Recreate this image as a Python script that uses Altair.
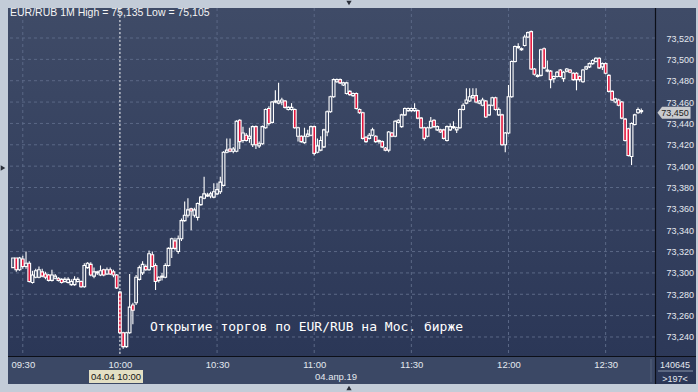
import altair as alt
import pandas as pd

# ---------------- data (EUR/RUB, 1-minute candles, 04.04.2019) ----------------
open_ = [
    73.305, 73.314, 73.303, 73.313, 73.306, 73.309, 73.291, 73.296, 73.296, 73.301,
    73.299, 73.298, 73.293, 73.295, 73.295, 73.294, 73.292, 73.291, 73.289, 73.289,
    73.292, 73.292, 73.287, 73.305, 73.308, 73.297, 73.300, 73.298, 73.303, 73.299,
    73.303, 73.301, 73.298, 73.282, 73.244, 73.231, 73.244, 73.270, 73.272, 73.294,
    73.300, 73.306, 73.303, 73.317, 73.307, 73.293, 73.296, 73.296, 73.307, 73.323,
    73.330, 73.320, 73.332, 73.349, 73.354, 73.360, 73.354, 73.352, 73.364, 73.370,
    73.372, 73.372, 73.371, 73.374, 73.376, 73.382, 73.413, 73.416, 73.414, 73.414,
    73.443, 73.424, 73.429, 73.426, 73.420, 73.437, 73.419, 73.421, 73.436, 73.454,
    73.441, 73.460, 73.459, 73.460, 73.461, 73.453, 73.453, 73.453, 73.428, 73.428,
    73.422, 73.428, 73.429, 73.437, 73.413, 73.415, 73.418, 73.432, 73.451, 73.465,
    73.479, 73.481, 73.476, 73.468, 73.470, 73.466, 73.468, 73.453, 73.450, 73.427,
    73.426, 73.429, 73.428, 73.424, 73.423, 73.417, 73.415, 73.431, 73.428, 73.441,
    73.437, 73.448, 73.452, 73.452, 73.452, 73.452, 73.445, 73.436, 73.428, 73.436,
    73.443, 73.434, 73.434, 73.434, 73.424, 73.434, 73.436, 73.434, 73.436, 73.453,
    73.459, 73.461, 73.464, 73.466, 73.459, 73.457, 73.461, 73.448, 73.457, 73.464,
    73.448, 73.448, 73.420, 73.431, 73.465, 73.498, 73.511, 73.509, 73.513, 73.521,
    73.526, 73.491, 73.484, 73.485, 73.510, 73.489, 73.489, 73.482, 73.484, 73.490,
    73.482, 73.489, 73.490, 73.487, 73.487, 73.484, 73.479, 73.491, 73.493, 73.496,
    73.498, 73.501, 73.493, 73.496, 73.485, 73.470, 73.460, 73.462, 73.460, 73.444,
    73.435, 73.409, 73.439, 73.450, 73.451,
]
high = [
    73.314, 73.314, 73.315, 73.316, 73.320, 73.311, 73.302, 73.304, 73.306, 73.304,
    73.301, 73.299, 73.303, 73.299, 73.296, 73.295, 73.296, 73.296, 73.294, 73.297,
    73.296, 73.293, 73.309, 73.310, 73.310, 73.305, 73.302, 73.307, 73.304, 73.305,
    73.305, 73.303, 73.299, 73.283, 73.245, 73.245, 73.299, 73.272, 73.298, 73.307,
    73.311, 73.308, 73.321, 73.320, 73.309, 73.297, 73.300, 73.309, 73.324, 73.333,
    73.333, 73.335, 73.351, 73.367, 73.370, 73.361, 73.361, 73.366, 73.372, 73.390,
    73.375, 73.376, 73.384, 73.384, 73.390, 73.414, 73.426, 73.426, 73.418, 73.443,
    73.444, 73.437, 73.431, 73.436, 73.438, 73.438, 73.423, 73.438, 73.454, 73.456,
    73.461, 73.471, 73.478, 73.464, 73.462, 73.456, 73.459, 73.454, 73.437, 73.429,
    73.436, 73.434, 73.438, 73.438, 73.426, 73.428, 73.435, 73.452, 73.466, 73.482,
    73.482, 73.482, 73.479, 73.479, 73.471, 73.469, 73.469, 73.454, 73.451, 73.428,
    73.431, 73.436, 73.429, 73.425, 73.424, 73.418, 73.433, 73.432, 73.443, 73.444,
    73.449, 73.455, 73.455, 73.455, 73.459, 73.453, 73.446, 73.437, 73.437, 73.446,
    73.444, 73.438, 73.435, 73.435, 73.438, 73.440, 73.442, 73.437, 73.454, 73.459,
    73.473, 73.473, 73.473, 73.473, 73.462, 73.464, 73.462, 73.458, 73.465, 73.465,
    73.455, 73.449, 73.432, 73.476, 73.499, 73.513, 73.515, 73.511, 73.523, 73.526,
    73.527, 73.492, 73.486, 73.510, 73.511, 73.499, 73.490, 73.485, 73.489, 73.491,
    73.489, 73.492, 73.491, 73.488, 73.488, 73.485, 73.491, 73.494, 73.497, 73.500,
    73.502, 73.502, 73.497, 73.497, 73.486, 73.471, 73.464, 73.463, 73.461, 73.445,
    73.436, 73.441, 73.449, 73.455, 73.454,
]
low = [
    73.305, 73.301, 73.302, 73.304, 73.304, 73.291, 73.290, 73.295, 73.295, 73.296,
    73.294, 73.292, 73.292, 73.294, 73.292, 73.290, 73.291, 73.290, 73.288, 73.288,
    73.291, 73.286, 73.286, 73.304, 73.297, 73.295, 73.298, 73.297, 73.297, 73.298,
    73.298, 73.296, 73.285, 73.243, 73.229, 73.230, 73.243, 73.252, 73.270, 73.293,
    73.298, 73.302, 73.302, 73.305, 73.284, 73.291, 73.293, 73.295, 73.306, 73.314,
    73.321, 73.318, 73.330, 73.348, 73.352, 73.340, 73.352, 73.349, 73.363, 73.369,
    73.371, 73.370, 73.370, 73.373, 73.374, 73.381, 73.412, 73.413, 73.412, 73.413,
    73.416, 73.422, 73.423, 73.422, 73.418, 73.416, 73.417, 73.420, 73.435, 73.438,
    73.440, 73.459, 73.458, 73.457, 73.454, 73.452, 73.452, 73.435, 73.423, 73.422,
    73.421, 73.427, 73.428, 73.410, 73.412, 73.414, 73.417, 73.428, 73.450, 73.464,
    73.478, 73.477, 73.475, 73.467, 73.466, 73.465, 73.453, 73.449, 73.425, 73.422,
    73.425, 73.428, 73.422, 73.421, 73.417, 73.414, 73.413, 73.427, 73.427, 73.440,
    73.436, 73.447, 73.451, 73.451, 73.451, 73.444, 73.435, 73.424, 73.427, 73.435,
    73.436, 73.433, 73.431, 73.425, 73.423, 73.433, 73.435, 73.431, 73.435, 73.452,
    73.458, 73.460, 73.463, 73.459, 73.458, 73.456, 73.445, 73.447, 73.456, 73.452,
    73.447, 73.419, 73.413, 73.430, 73.464, 73.497, 73.510, 73.508, 73.512, 73.520,
    73.490, 73.485, 73.483, 73.484, 73.491, 73.488, 73.473, 73.478, 73.483, 73.483,
    73.479, 73.488, 73.487, 73.480, 73.471, 73.479, 73.478, 73.490, 73.492, 73.495,
    73.497, 73.491, 73.490, 73.486, 73.469, 73.461, 73.459, 73.456, 73.444, 73.423,
    73.409, 73.401, 73.438, 73.449, 73.449,
]
close_ = [
    73.314, 73.303, 73.314, 73.306, 73.309, 73.292, 73.298, 73.302, 73.303, 73.297,
    73.296, 73.293, 73.298, 73.297, 73.293, 73.291, 73.294, 73.294, 73.292, 73.294,
    73.294, 73.287, 73.307, 73.309, 73.298, 73.301, 73.301, 73.302, 73.298, 73.303,
    73.299, 73.298, 73.286, 73.244, 73.231, 73.244, 73.268, 73.265, 73.296, 73.305,
    73.308, 73.303, 73.318, 73.306, 73.292, 73.296, 73.297, 73.307, 73.323, 73.332,
    73.323, 73.332, 73.349, 73.354, 73.359, 73.358, 73.359, 73.365, 73.371, 73.374,
    73.373, 73.374, 73.376, 73.378, 73.385, 73.413, 73.415, 73.414, 73.416, 73.442,
    73.423, 73.431, 73.424, 73.428, 73.437, 73.420, 73.421, 73.437, 73.453, 73.440,
    73.460, 73.461, 73.461, 73.462, 73.455, 73.455, 73.455, 73.436, 73.436, 73.423,
    73.428, 73.430, 73.437, 73.412, 73.419, 73.424, 73.434, 73.451, 73.465, 73.481,
    73.481, 73.478, 73.478, 73.478, 73.467, 73.468, 73.454, 73.450, 73.426, 73.423,
    73.429, 73.434, 73.423, 73.423, 73.418, 73.415, 73.432, 73.428, 73.442, 73.443,
    73.448, 73.454, 73.454, 73.454, 73.454, 73.445, 73.436, 73.426, 73.436, 73.442,
    73.437, 73.437, 73.432, 73.426, 73.437, 73.437, 73.437, 73.436, 73.453, 73.457,
    73.462, 73.465, 73.466, 73.460, 73.461, 73.462, 73.446, 73.457, 73.464, 73.453,
    73.453, 73.420, 73.431, 73.465, 73.498, 73.512, 73.512, 73.510, 73.521, 73.525,
    73.491, 73.486, 73.485, 73.509, 73.492, 73.490, 73.481, 73.484, 73.488, 73.484,
    73.488, 73.491, 73.488, 73.481, 73.481, 73.481, 73.490, 73.493, 73.496, 73.499,
    73.501, 73.492, 73.496, 73.487, 73.470, 73.462, 73.463, 73.457, 73.445, 73.424,
    73.410, 73.440, 73.448, 73.453, 73.452,
]
first_minute = 9 * 60 + 27          # first candle at 09:27
minutes = [first_minute + i for i in range(len(close_))]

price_ticks = [73.24, 73.26, 73.28, 73.30, 73.32, 73.34, 73.36, 73.38,
               73.40, 73.42, 73.44, 73.46, 73.48, 73.50, 73.52]
time_ticks = [570, 600, 630, 660, 690, 720, 750]   # 09:30 ... 12:30
cursor_minute = [600]                              # 10:00
last_price = [73.450]

title_text = "EUR/RUB 1M High = 75,135 Low = 75,105"
note_text = "Открытие торгов по EUR/RUB на Мос. бирже"
date_text = "04.апр.19"
cursor_text = "04.04 10:00"
count_text = "140645"
bars_text = ">197<"

# ---------------- layout / style ----------------
W, H = 647, 348
FONT = "Liberation Sans"
RED = "#e3163d"
UP_FILL = "#3a4664"
GRID = "#5b6886"
LABEL = "#e4e8ef"

x_scale = alt.Scale(domain=[566.98, 763.7], nice=False, zero=False)
y_scale = alt.Scale(domain=[73.2222, 73.5481], nice=False, zero=False)

x_axis = alt.Axis(
    values=time_ticks,
    labelExpr="(datum.value < 600 ? '0' : '') + floor(datum.value / 60) + ':' + "
              "(datum.value % 60 < 10 ? '0' : '') + (datum.value % 60)",
    title=None, grid=False, domain=False, ticks=False, labelPadding=3,
    labelFont=FONT, labelFontSize=9.5, labelColor=LABEL, zindex=1,
    labelFlush=False, labelOverlap=False, labelBound=False,
)
y_axis = alt.Axis(
    orient="right", values=price_ticks,
    labelExpr="replace(format(datum.value, '.3f'), '.', ',')",
    title=None, grid=False, domain=False, ticks=False, labelPadding=11,
    labelAlign="left", labelBaseline="middle",
    labelFont=FONT, labelFontSize=9, labelColor=LABEL, zindex=1,
    labelOverlap=False, labelFlush=False,
)


def X(f):
    return alt.X(f"{f}:Q", scale=x_scale, axis=x_axis)


def Y(f):
    return alt.Y(f"{f}:Q", scale=y_scale, axis=y_axis)


one = alt.Chart(pd.DataFrame({"k": [0]}))

grad = alt.LinearGradient(
    gradient="linear", x1=0, y1=0, x2=0, y2=1,
    stops=[alt.GradientStop(color="#3f4b67", offset=0),
           alt.GradientStop(color="#2b3757", offset=1)],
)

bg_plot = one.mark_rect(fill=grad).encode(
    x=alt.value(0), x2=alt.value(W), y=alt.value(0), y2=alt.value(H))
bg_right = one.mark_rect(fill=grad).encode(
    x=alt.value(W), x2=alt.value(W + 41), y=alt.value(0), y2=alt.value(H + 28))
bg_bottom = one.mark_rect(fill="#3b4865").encode(
    x=alt.value(0), x2=alt.value(W), y=alt.value(H), y2=alt.value(H + 28))

grid_h = alt.Chart(pd.DataFrame({"gy": price_ticks})).mark_rule(
    color=GRID, strokeDash=[3, 3], strokeWidth=1).encode(y=Y("gy"))
grid_v = alt.Chart(pd.DataFrame({"gx": time_ticks})).mark_rule(
    color=GRID, strokeDash=[3, 3], strokeWidth=1).encode(x=X("gx"))

df = pd.DataFrame({"t": minutes, "o": open_, "h": high, "l": low, "c": close_})
base = alt.Chart(df)
wicks = base.mark_rule(color="white", strokeWidth=1.1, clip=True).encode(
    x=X("t"), y=Y("l"), y2="h:Q")
bodies = base.mark_bar(size=2.7, stroke="white", strokeWidth=1.1, clip=True).encode(
    x=X("t"), y=Y("o"), y2="c:Q",
    fill=alt.condition("datum.c < datum.o", alt.value(RED), alt.value(UP_FILL)),
)

cursor = alt.Chart(pd.DataFrame({"cx": cursor_minute})).mark_rule(
    color="#eeeeee", strokeDash=[2, 2], strokeWidth=1).encode(x=X("cx"))

sep_v = one.mark_rule(color="#0c0f18", strokeWidth=1.2).encode(
    x=alt.value(W + 0.5), y=alt.value(0), y2=alt.value(H + 28))
sep_h = one.mark_rule(color="#0c0f18", strokeWidth=1.2).encode(
    y=alt.value(H + 0.5), x=alt.value(0), x2=alt.value(W + 41))
sep_box = one.mark_rule(color="#8a96ab", strokeWidth=1).encode(
    y=alt.value(H + 15), x=alt.value(W + 3), x2=alt.value(W + 38))
sep_faint = one.mark_rule(color="#56627c", strokeWidth=1).encode(
    x=alt.value(W - 4), y=alt.value(H + 3), y2=alt.value(H + 26))


def label(text, x, y, color=LABEL, size=9.5, align="center", font=FONT):
    return alt.Chart(pd.DataFrame({"txt": [text]})).mark_text(
        align=align, baseline="middle", font=font, fontSize=size, color=color
    ).encode(x=alt.value(x), y=alt.value(y), text="txt:N")


title = label(title_text, 2, 5, color="#f4f4f4", size=10.5, align="left")
note = label(note_text, 142, 319, color="#ffffff", size=13, align="left",
             font="DejaVu Sans Mono")
date_lbl = label(date_text, 328, 369)
cursor_box = one.mark_rect(fill="#e3dfc3").encode(
    x=alt.value(81), x2=alt.value(135), y=alt.value(362), y2=alt.value(375))
cursor_lbl = label(cursor_text, 108, 369, color="#151515")
count_lbl = label(count_text, 667, 357, size=9)
bars_lbl = label(bars_text, 667, 371, size=9)

tag_df = pd.DataFrame({"p": last_price})
tag = alt.Chart(tag_df).mark_point(
    shape="M-1,0L-0.72,-0.36L1,-0.36L1,0.36L-0.72,0.36Z",
    filled=True, fill="#c9cbcf", opacity=1, strokeWidth=0, size=1100,
).encode(x=alt.value(666), y=Y("p"))
tag_text = alt.Chart(tag_df).transform_calculate(
    lbl="replace(format(datum.p, '.3f'), '.', ',')"
).mark_text(font=FONT, fontSize=9, color="#1c1c1c", align="center",
            baseline="middle").encode(x=alt.value(667), y=Y("p"), text="lbl:N")

tri_top = one.mark_point(shape="triangle-down", filled=True, color="#2a2f3a",
                         opacity=1, size=28).encode(x=alt.value(341), y=alt.value(-5))
tri_bot = one.mark_point(shape="triangle-up", filled=True, color="#2a2f3a",
                         opacity=1, size=28).encode(x=alt.value(341), y=alt.value(380))
tri_left = one.mark_point(shape="triangle-right", filled=True, color="#2a2f3a",
                          opacity=1, size=28).encode(x=alt.value(-5), y=alt.value(160))

chart = alt.layer(
    bg_plot, bg_right, bg_bottom, grid_h, grid_v, wicks, bodies, cursor,
    sep_v, sep_h, sep_box, sep_faint,
    title, note, date_lbl, cursor_box, cursor_lbl, count_lbl, bars_lbl,
    tag, tag_text, tri_top, tri_bot, tri_left,
).properties(
    width=W, height=H,
    padding={"left": 8, "top": 8, "right": 43, "bottom": 36},
    autosize=alt.AutoSizeParams(type="none"),
    background="#c3ccd8",
).configure_view(stroke=None)

chart.save("out.html", embed_options={"renderer": "svg", "actions": False})
